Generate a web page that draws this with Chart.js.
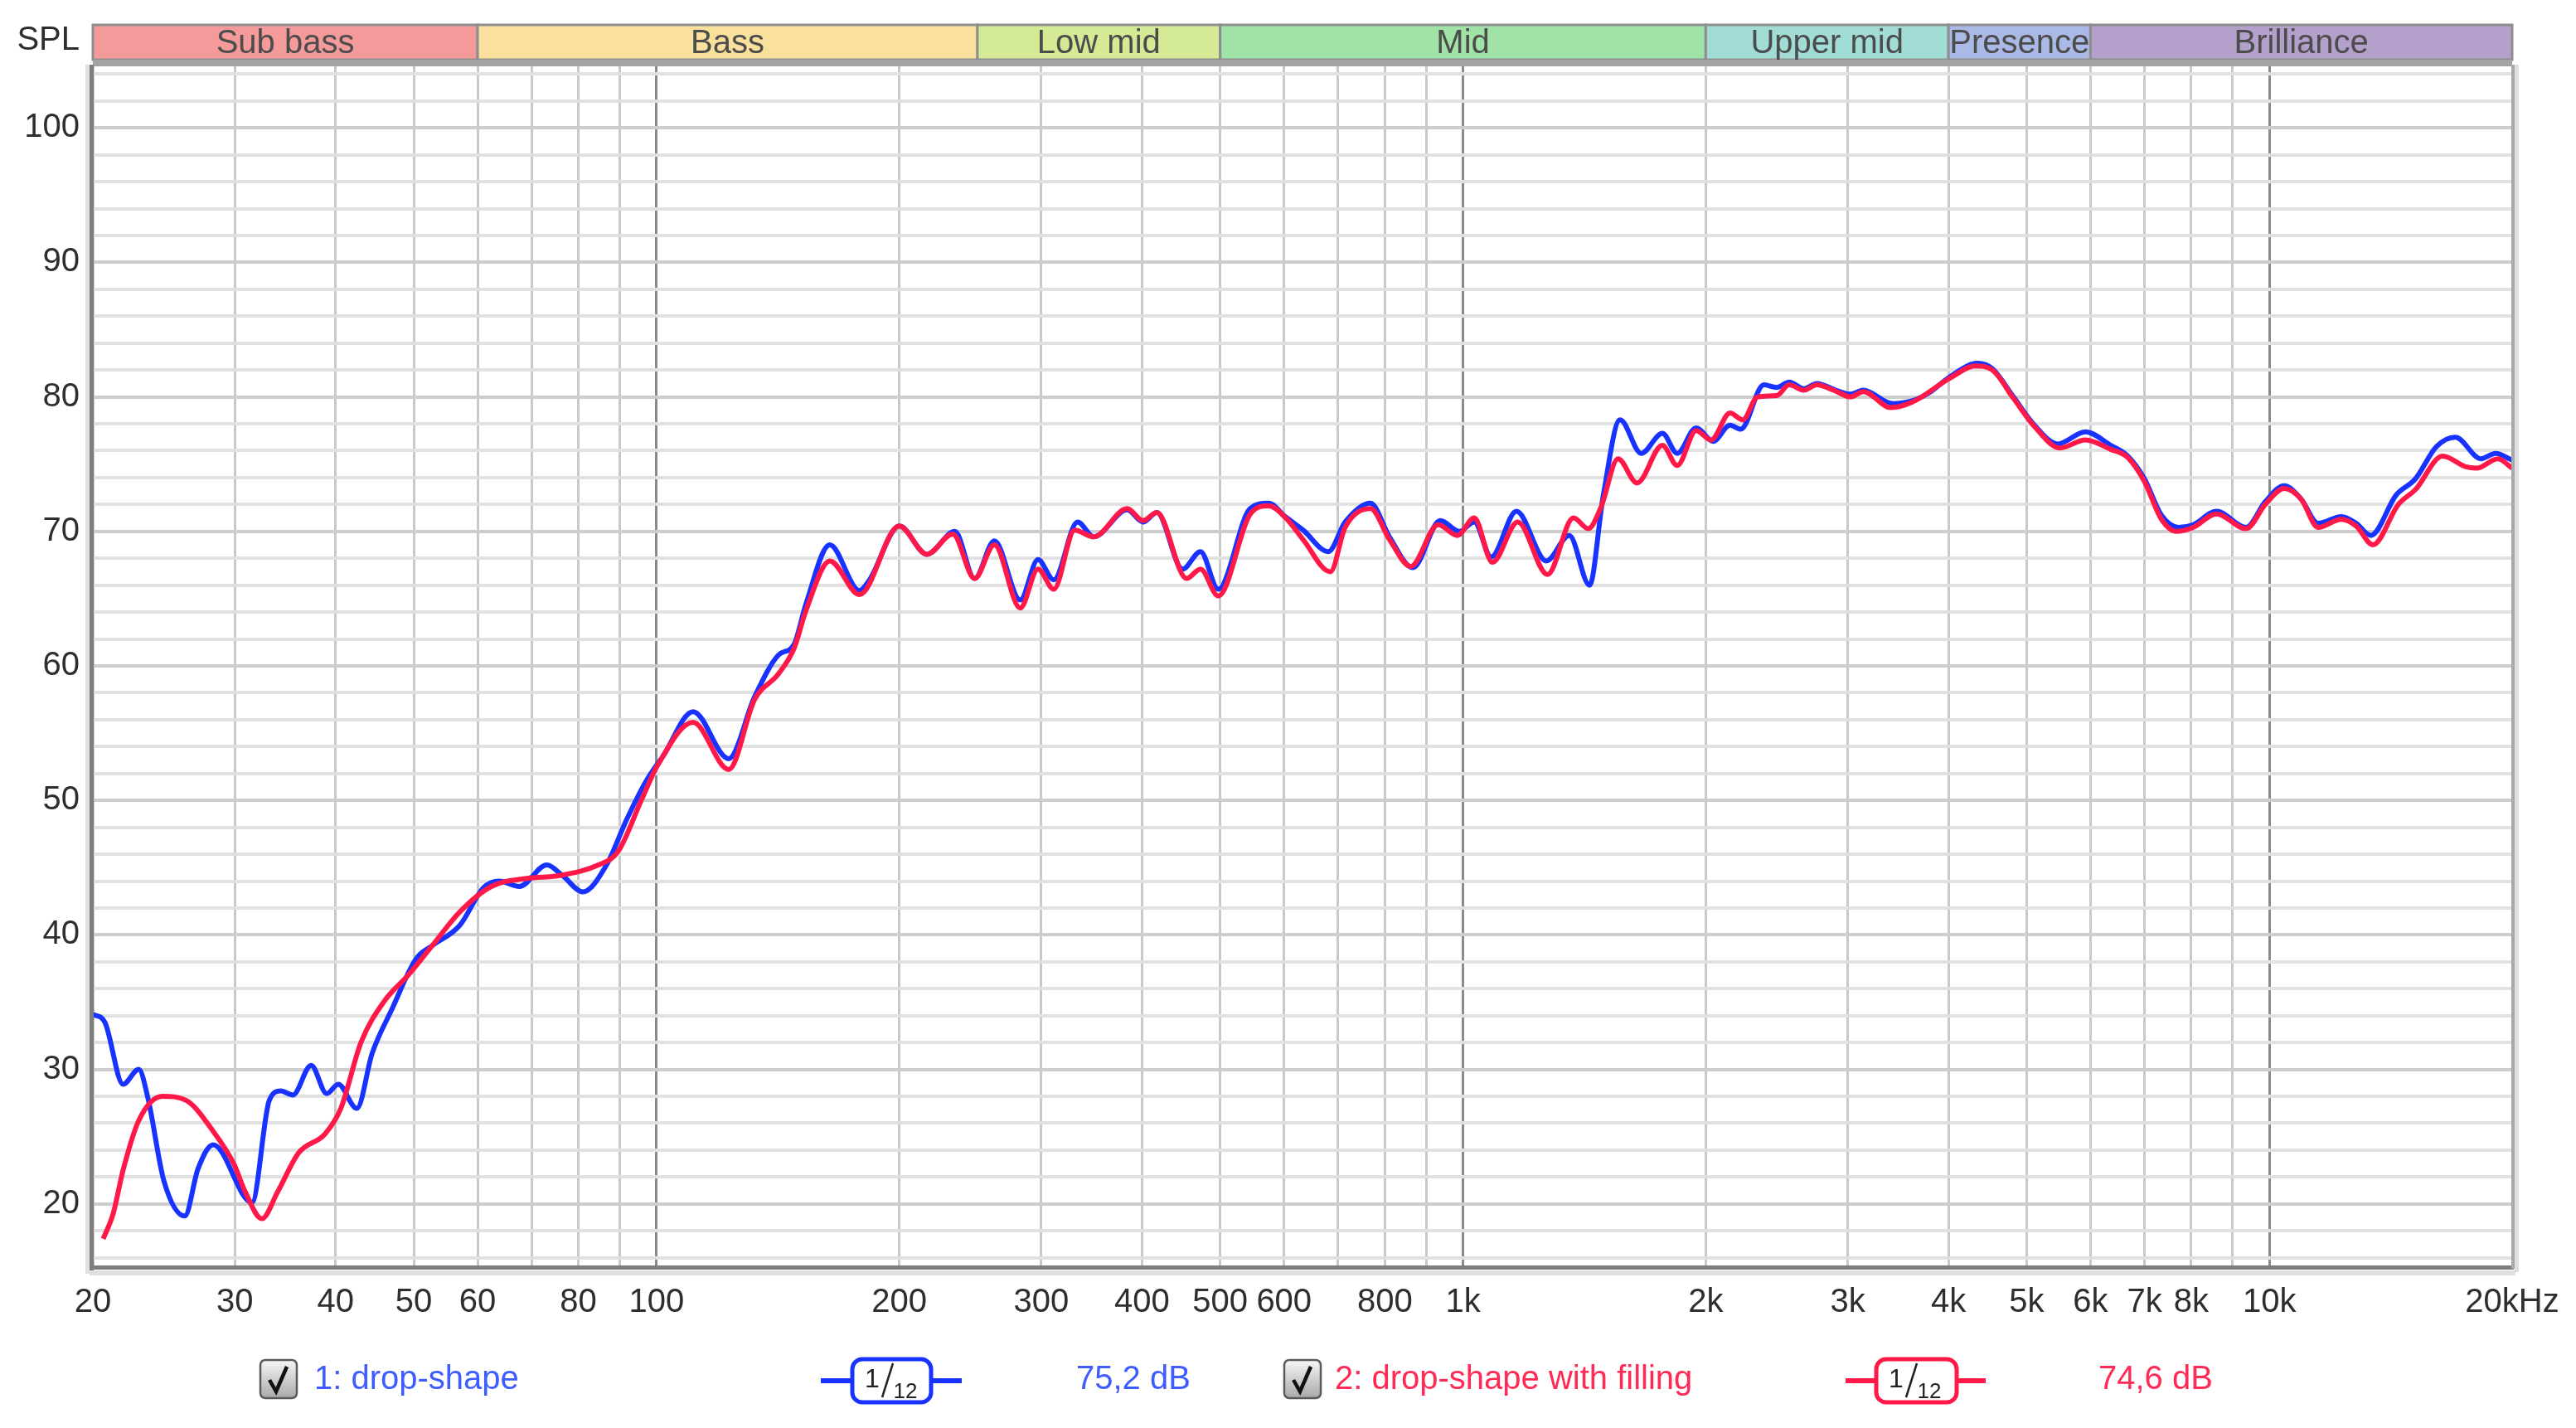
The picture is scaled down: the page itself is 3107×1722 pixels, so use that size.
<!DOCTYPE html>
<html>
<head>
<meta charset="utf-8">
<script src="https://cdn.jsdelivr.net/npm/chart.js@4.4.1/dist/chart.umd.min.js"></script>
<style>
  html, body { margin: 0; padding: 0; background: #fff; }
  canvas { display: block; }
</style>
</head>
<body>
<canvas id="spl" width="3107" height="1722"></canvas>
<script>
var blueHz = [20, 20.7, 21.8, 22.8, 23.4, 24.5, 26, 27, 28.2, 31.5, 33.1, 34.2, 35.4, 37.3, 39, 40.3, 42.5, 44.4, 47, 50.3,
  52.7, 57, 61, 63.8, 67.6, 73.1, 76.5, 81, 86.7, 91.7, 97, 101.9, 111, 122.9, 132.3, 141.6, 148.1, 153.2, 164, 178.5,
  183.7, 200, 216.4, 234.4, 248, 262.4, 282.5, 297.2, 310.9, 332.8, 348.3, 383.4, 401, 417.3, 449.2, 472.6, 497.3, 544.6, 574, 602,
  633.4, 680.7, 714.4, 767.9, 810.6, 866.7, 937.4, 989.9, 1032.7, 1083.9, 1165.1, 1268.6, 1354.7, 1435.4, 1492.1, 1566, 1663.7, 1767.2, 1843.7, 1946,
  2042.5, 2143.7, 2209.9, 2361.4, 2448.4, 2538.5, 2648, 2746.1, 2900, 3024.8, 3136, 3413, 3604, 3783, 4018, 4345, 4533, 4815, 5113, 5465,
  5912, 6358, 6672, 7000, 7347, 7713, 8045, 8597, 9358, 9882, 10430, 10950, 11490, 12280, 12810, 13360, 14360, 15170, 16110, 17010,
  18290, 19080, 20000];
var blueDb = [34.1, 33.5, 28.9, 30.0, 27.9, 21.7, 19.1, 22.6, 24.4, 20.1, 27.7, 28.4, 28.1, 30.3, 28.2, 28.9, 27.1, 31.2, 34.5, 38.2,
  39.2, 40.7, 43.5, 44.0, 43.6, 45.2, 44.4, 43.2, 45.2, 48.5, 51.4, 53.3, 56.6, 53.1, 57.7, 60.8, 61.6, 64.6, 69.0, 65.6,
  66.4, 70.4, 68.3, 70.0, 66.5, 69.3, 64.9, 67.9, 66.4, 70.7, 69.6, 71.6, 70.7, 71.4, 67.2, 68.5, 65.7, 71.7, 72.1, 71.1,
  70.1, 68.5, 70.7, 72.1, 69.6, 67.3, 70.8, 70.0, 70.7, 68.1, 71.5, 67.8, 69.7, 66.0, 72.6, 78.3, 75.8, 77.3, 75.8, 77.7,
  76.7, 77.9, 77.6, 80.9, 80.7, 81.1, 80.6, 81.0, 80.5, 80.2, 80.5, 79.5, 79.7, 80.3, 81.5, 82.5, 82.1, 80.0, 77.9, 76.5,
  77.4, 76.4, 75.6, 73.9, 71.2, 70.3, 70.5, 71.5, 70.3, 72.2, 73.4, 72.4, 70.6, 71.1, 70.6, 69.7, 72.7, 73.9, 76.3, 77.0,
  75.4, 75.8, 75.3];

// measurement 2 (red)
var redHz = [20.6, 21.2, 21.8, 22.8, 24.4, 26.1, 28.2, 29.9, 30.9, 32.4, 33.9, 36, 38.8, 40.6, 43, 46, 49.2, 52.7, 57, 62.4,
  69.1, 75.6, 84.7, 89.6, 95.9, 100.3, 111, 122.9, 132.3, 141.6, 148.1, 153.2, 164, 178.5, 200, 216.4, 233, 248, 262.4, 282.5,
  297.2, 310.9, 330, 348.3, 383.4, 401, 417.3, 454.3, 472.6, 497.3, 545, 574.7, 603, 633.4, 684.8, 714.4, 767.9, 810.6, 861.3, 931.8,
  984.1, 1032.7, 1087.6, 1169.3, 1273, 1371, 1430, 1483, 1557, 1644, 1767.2, 1843.7, 1946, 2031, 2143.7, 2223, 2319, 2448.4, 2538.5, 2648,
  2746.1, 2882, 3024.8, 3136, 3392, 3604, 4018, 4319, 4533, 4815, 5113, 5499, 5912, 6358, 6672, 7000, 7347, 7666, 8045, 8597,
  9358, 9882, 10430, 10950, 11490, 12280, 12810, 13440, 14450, 15170, 16400, 17520, 18060, 19200, 20000];
var redDb = [17.4, 19.3, 22.5, 26.2, 28.0, 27.7, 25.4, 23.0, 20.9, 18.9, 20.9, 23.8, 25.2, 27.1, 32.0, 35.1, 37.0, 39.2, 41.7, 43.6,
  44.2, 44.4, 45.2, 46.2, 50.1, 52.6, 55.8, 52.3, 57.5, 59.4, 61.3, 64.1, 67.8, 65.3, 70.4, 68.3, 69.8, 66.5, 69.0, 64.3,
  67.2, 65.7, 70.1, 69.6, 71.7, 70.8, 71.4, 66.5, 67.2, 65.2, 71.3, 71.9, 71.0, 69.4, 67.0, 70.3, 71.7, 69.4, 67.4, 70.5,
  69.7, 71.0, 67.7, 70.7, 66.8, 71.0, 70.2, 71.8, 75.4, 73.6, 76.4, 74.9, 77.5, 76.8, 78.8, 78.3, 80.0, 80.1, 80.9, 80.5,
  80.9, 80.5, 80.0, 80.4, 79.2, 79.6, 81.4, 82.3, 82.0, 79.9, 77.8, 76.2, 76.8, 76.1, 75.5, 73.7, 70.9, 70.0, 70.3, 71.3,
  70.2, 72.0, 73.2, 72.4, 70.3, 70.9, 70.4, 69.0, 72.0, 73.1, 75.6, 74.8, 74.7, 75.4, 74.7];

var bandNames = ['Sub bass', 'Bass', 'Low mid', 'Mid', 'Upper mid', 'Presence', 'Brilliance'];
var bandEdges = [20, 60, 250, 500, 2000, 4000, 6000, 20000];
var bandColors = ['#f59a9b', '#f9e19d', '#d5ea95', '#a1e2a7', '#a1ddd5', '#aab9e5', '#b3a0cb'];

var freqTicks = [20, 30, 40, 50, 60, 70, 80, 90, 100, 200, 300, 400, 500, 600, 700, 800, 900, 1000,
  2000, 3000, 4000, 5000, 6000, 7000, 8000, 9000, 10000, 20000];
var freqLabels = {20: '20', 30: '30', 40: '40', 50: '50', 60: '60', 80: '80', 100: '100', 200: '200', 300: '300',
  400: '400', 500: '500', 600: '600', 800: '800', 1000: '1k', 2000: '2k', 3000: '3k', 4000: '4k', 5000: '5k',
  6000: '6k', 7000: '7k', 8000: '8k', 10000: '10k', 20000: '20kHz'};
var splLabels = [20, 30, 40, 50, 60, 70, 80, 90, 100];

var legendNames = ['1: drop-shape', '2: drop-shape with filling'];
var legendLevels = ['75,2 dB', '74,6 dB'];

var FONT = '"Liberation Sans", Arial, sans-serif';
var BLUE = '#1833ff', RED = '#ff1848';
var BLUE_TXT = '#3f5cff', RED_TXT = '#ff2a55';

function toPoints(hz, db) {
  return hz.map(function (f, i) { return {x: f, y: db[i]}; });
}

function roundRect(ctx, x, y, w, h, r) {
  ctx.beginPath();
  ctx.moveTo(x + r, y);
  ctx.arcTo(x + w, y, x + w, y + h, r);
  ctx.arcTo(x + w, y + h, x, y + h, r);
  ctx.arcTo(x, y + h, x, y, r);
  ctx.arcTo(x, y, x + w, y, r);
  ctx.closePath();
}

function drawCheckbox(ctx, x, y) {
  var g = ctx.createLinearGradient(x, y, x, y + 46);
  g.addColorStop(0, '#f6f6f6');
  g.addColorStop(1, '#a9a9a9');
  roundRect(ctx, x, y, 44, 46, 6);
  ctx.fillStyle = g;
  ctx.fill();
  ctx.lineWidth = 2.5;
  ctx.strokeStyle = '#5a5a5a';
  ctx.stroke();
  ctx.beginPath();
  ctx.moveTo(x + 11, y + 24);
  ctx.lineTo(x + 19, y + 38);
  ctx.lineTo(x + 32, y + 8);
  ctx.lineWidth = 4.5;
  ctx.strokeStyle = '#111';
  ctx.stroke();
}

function drawSmoothIcon(ctx, x0, x1, bx0, bx1, color) {
  var cy = 1665;
  ctx.beginPath();
  ctx.moveTo(x0, cy); ctx.lineTo(x1, cy);
  ctx.lineWidth = 6; ctx.strokeStyle = color; ctx.stroke();
  roundRect(ctx, bx0, 1639, bx1 - bx0, 52, 12);
  ctx.fillStyle = '#fff'; ctx.fill();
  ctx.lineWidth = 5; ctx.strokeStyle = color; ctx.stroke();
  ctx.fillStyle = '#222';
  ctx.textAlign = 'center'; ctx.textBaseline = 'alphabetic';
  ctx.font = '32px ' + FONT;
  ctx.fillText('1', bx0 + 24, 1673);
  ctx.beginPath();
  ctx.moveTo(bx0 + 49, 1644); ctx.lineTo(bx0 + 36, 1685);
  ctx.lineWidth = 2.5; ctx.strokeStyle = '#222'; ctx.stroke();
  ctx.font = '26px ' + FONT;
  ctx.fillText('12', bx0 + 64, 1686);
}

var decorations = {
  id: 'decorations',
  beforeDraw: function (chart) {
    var ctx = chart.ctx;
    ctx.save();
    ctx.fillStyle = '#fff';
    ctx.fillRect(0, 0, chart.width, chart.height);
    ctx.restore();
  },
  afterDraw: function (chart) {
    var ctx = chart.ctx, a = chart.chartArea, xs = chart.scales.x;
    ctx.save();

    // frequency band strip
    ctx.font = '40px ' + FONT;
    ctx.textAlign = 'center';
    ctx.textBaseline = 'middle';
    for (var i = 0; i < bandNames.length; i++) {
      var x0 = xs.getPixelForValue(bandEdges[i]);
      var x1 = xs.getPixelForValue(bandEdges[i + 1]);
      ctx.fillStyle = bandColors[i];
      ctx.fillRect(x0, 30, x1 - x0, 42);
      ctx.lineWidth = 3;
      ctx.strokeStyle = '#8e8e8e';
      ctx.strokeRect(x0, 30, x1 - x0, 42);
      ctx.fillStyle = '#4c4c4c';
      ctx.fillText(bandNames[i], (x0 + x1) / 2, 53);
    }
    ctx.fillStyle = '#a3a3a3';
    ctx.fillRect(a.left, 72, a.right - a.left, 8);

    ctx.textAlign = 'right';
    ctx.fillStyle = '#2e2e2e';
    ctx.fillText('SPL', 96, 49);

    // plot frame
    ctx.fillStyle = 'rgba(0,0,0,0.12)';
    ctx.fillRect(a.left - 9, a.top, 5, a.bottom - a.top + 8);
    ctx.fillRect(a.left - 4, a.bottom + 4, a.right - a.left + 8, 6);
    ctx.fillRect(a.right + 3, a.top, 5, a.bottom - a.top + 6);
    ctx.fillStyle = '#7d7d7d';
    ctx.fillRect(a.left - 4, a.top, 5, a.bottom - a.top + 4);
    ctx.fillRect(a.left - 4, a.bottom - 2, a.right - a.left + 6, 5);
    ctx.fillStyle = '#a8a8a8';
    ctx.fillRect(a.right - 1, a.top, 4, a.bottom - a.top + 2);

    // legend row
    drawCheckbox(ctx, 314, 1640);
    drawCheckbox(ctx, 1549, 1640);
    ctx.font = '40px ' + FONT;
    ctx.textAlign = 'left';
    ctx.textBaseline = 'middle';
    ctx.fillStyle = BLUE_TXT;
    ctx.fillText(legendNames[0], 379, 1664);
    ctx.fillText(legendLevels[0], 1298, 1664);
    ctx.fillStyle = RED_TXT;
    ctx.fillText(legendNames[1], 1610, 1664);
    ctx.fillText(legendLevels[1], 2531, 1664);
    drawSmoothIcon(ctx, 990, 1160, 1028, 1123, BLUE);
    drawSmoothIcon(ctx, 2226, 2395, 2263, 2360, RED);

    ctx.restore();
  }
};

new Chart(document.getElementById('spl'), {
  type: 'line',
  data: {
    datasets: [
      {label: legendNames[0], data: toPoints(blueHz, blueDb), borderColor: BLUE, order: 2},
      {label: legendNames[1], data: toPoints(redHz, redDb), borderColor: RED, order: 1}
    ]
  },
  options: {
    responsive: false,
    animation: false,
    devicePixelRatio: 1,
    layout: {padding: {left: 12, right: 77, top: 78, bottom: 134}},
    plugins: {legend: {display: false}, tooltip: {enabled: false}},
    elements: {
      point: {radius: 0},
      line: {borderWidth: 6, cubicInterpolationMode: 'monotone', fill: false}
    },
    scales: {
      x: {
        type: 'logarithmic',
        min: 20,
        max: 20000,
        afterBuildTicks: function (s) {
          s.ticks = freqTicks.map(function (v) { return {value: v}; });
        },
        afterFit: function (s) { s.height = 60; },
        ticks: {
          autoSkip: false, maxRotation: 0, padding: 19, color: '#2e2e2e',
          font: {family: FONT, size: 40},
          callback: function (v) { return freqLabels[v] || ''; }
        },
        grid: {
          drawTicks: false,
          color: function (c) {
            var v = c.tick && c.tick.value;
            return (v === 100 || v === 1000 || v === 10000) ? '#8a8a8a' : '#c9c9c9';
          },
          lineWidth: 3
        },
        border: {display: false}
      },
      y: {
        min: 15.3,
        max: 104.7,
        afterBuildTicks: function (s) {
          var t = [];
          for (var v = 16; v <= 104; v += 2) t.push({value: v});
          s.ticks = t;
        },
        afterFit: function (s) { s.width = 100; },
        ticks: {
          autoSkip: false, padding: 16, color: '#2e2e2e',
          font: {family: FONT, size: 40},
          callback: function (v) { return splLabels.indexOf(v) >= 0 ? String(v) : ''; }
        },
        grid: {
          drawTicks: false,
          color: function (c) {
            var v = c.tick && c.tick.value;
            return v % 10 === 0 ? '#cdcdcd' : '#e1e1e1';
          },
          lineWidth: 4
        },
        border: {display: false}
      }
    }
  },
  plugins: [decorations]
});
</script>
</body>
</html>
